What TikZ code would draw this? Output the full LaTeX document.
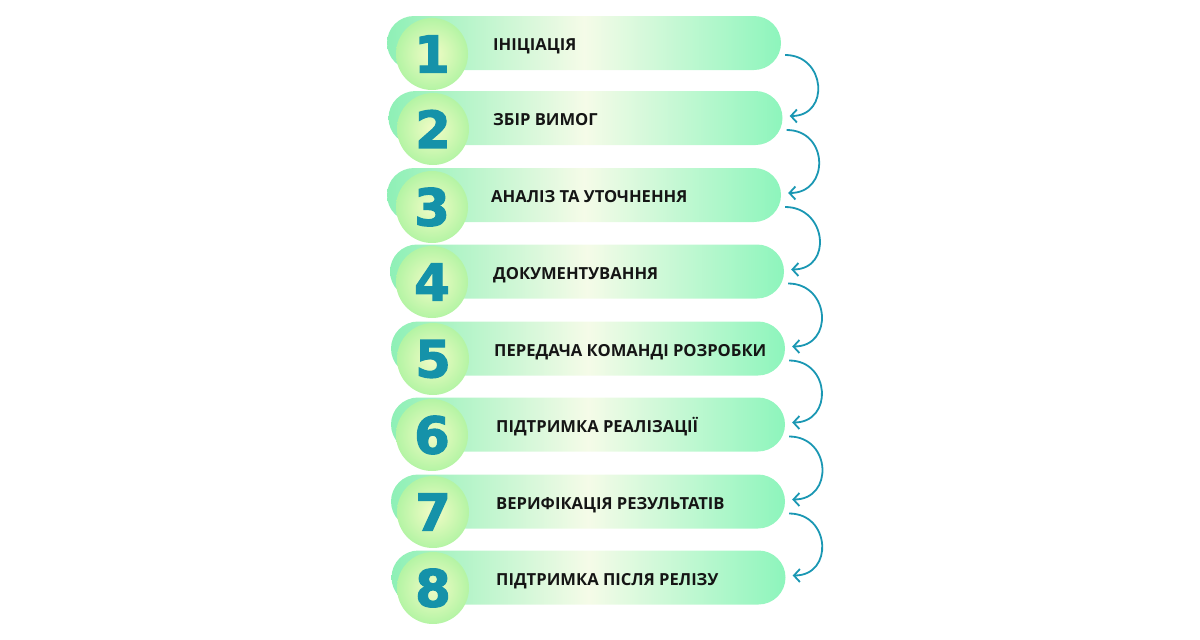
\documentclass[tikz,border=0pt]{standalone}
\usepackage{fontspec}
\setmainfont{Open Sans}
\newfontfamily\digitfont[FakeBold=2.5]{DejaVu Sans Bold}
\usetikzlibrary{arrows.meta}

\definecolor{barside}{HTML}{8EF0B6}
\definecolor{barmid}{HTML}{F5FBE8}
\definecolor{barend}{HTML}{8DF5BC}
\definecolor{ballin}{HTML}{F2FCC6}
\definecolor{ballout}{HTML}{B4F4A4}
\definecolor{digit}{HTML}{1592A9}
\definecolor{flowline}{HTML}{1A97B3}
\definecolor{ink}{HTML}{151515}

\begin{document}
\begin{tikzpicture}[x=1pt,y=-1pt]
            \tikzstyle{stagebar}=[rounded corners=27pt,minimum width=394pt,minimum height=54pt,inner sep=0pt,
              left color=barside,right color=barend,middle color=barmid]
            \tikzstyle{badge}=[circle,inner sep=0pt,minimum size=72pt,inner color=ballin,outer color=ballout,
              text=digit,font=\digitfont\fontsize{51}{51}\selectfont]
            \tikzstyle{stagename}=[anchor=base west,inner sep=0pt,text=ink,font=\bfseries\fontsize{16.6}{20}\selectfont]
            \tikzstyle{flow}=[flowline,line width=1.8pt,-{Straight Barb[length=6pt,width=13pt]}]

            \useasboundingbox (0,0) rectangle (1200,640);

            \node (bar1) at (584,43) [stagebar] {};
            \node (num1) at (432,54) [badge] {1};
            \node (txt1) at (493,50.5) [stagename] {ІНІЦІАЦІЯ};

            \node (bar2) at (585.5,118) [stagebar] {};
            \node (num2) at (433,129) [badge] {2};
            \node (txt2) at (493,125.5) [stagename] {ЗБІР ВИМОГ};

            \node (bar3) at (584,195) [stagebar] {};
            \node (num3) at (432,207) [badge] {3};
            \node (txt3) at (491,202.5) [stagename] {АНАЛІЗ ТА УТОЧНЕННЯ};

            \node (bar4) at (587,271.5) [stagebar] {};
            \node (num4) at (432,282) [badge] {4};
            \node (txt4) at (493,279) [stagename] {ДОКУМЕНТУВАННЯ};

            \node (bar5) at (588,348.5) [stagebar] {};
            \node (num5) at (433,359) [badge] {5};
            \node (txt5) at (494,356) [stagename] {ПЕРЕДАЧА КОМАНДІ РОЗРОБКИ};

            \node (bar6) at (588,424.5) [stagebar] {};
            \node (num6) at (432,435) [badge] {6};
            \node (txt6) at (496,432) [stagename] {ПІДТРИМКА РЕАЛІЗАЦІЇ};

            \node (bar7) at (588,501.5) [stagebar] {};
            \node (num7) at (433,512) [badge] {7};
            \node (txt7) at (496,509) [stagename] {ВЕРИФІКАЦІЯ РЕЗУЛЬТАТІВ};

            \node (bar8) at (588.5,577.5) [stagebar] {};
            \node (num8) at (433,588) [badge] {8};
            \node (txt8) at (496,585) [stagename] {ПІДТРИМКА ПІСЛЯ РЕЛІЗУ};

            \draw[flow] ([shift={(4,12)}]bar1.east) to[out=0,in=0,looseness=1.7] ([shift={(7,-2)}]bar2.east);
            \draw[flow] ([shift={(4,12)}]bar2.east) to[out=0,in=0,looseness=1.7] ([shift={(7,-2)}]bar3.east);
            \draw[flow] ([shift={(4,12)}]bar3.east) to[out=0,in=0,looseness=1.7] ([shift={(7,-2)}]bar4.east);
            \draw[flow] ([shift={(4,12)}]bar4.east) to[out=0,in=0,looseness=1.7] ([shift={(7,-2)}]bar5.east);
            \draw[flow] ([shift={(4,12)}]bar5.east) to[out=0,in=0,looseness=1.7] ([shift={(7,-2)}]bar6.east);
            \draw[flow] ([shift={(4,12)}]bar6.east) to[out=0,in=0,looseness=1.7] ([shift={(7,-2)}]bar7.east);
            \draw[flow] ([shift={(4,12)}]bar7.east) to[out=0,in=0,looseness=1.7] ([shift={(7,-2)}]bar8.east);
          \end{tikzpicture}
\end{document}
